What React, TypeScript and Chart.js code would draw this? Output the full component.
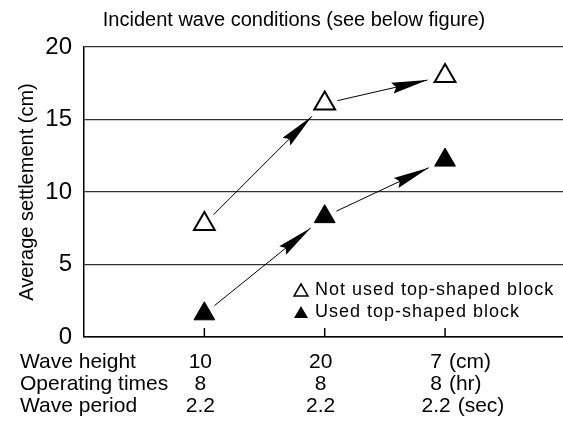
import React, { useEffect, useRef } from 'react';
import { Chart, registerables } from 'chart.js';

Chart.register(...registerables);

const chartTitle = 'Incident wave conditions (see below figure)';
const yAxisTitle = 'Average settlement (cm)';
const conditionIndex = [1, 2, 3];
const notUsedLabel = 'Not used top-shaped block';
const usedLabel = 'Used top-shaped block';
const notUsedValues = [7.8, 16.1, 18.0];
const usedValues = [1.6, 8.3, 12.2];
const yTickValues = [0, 5, 10, 15, 20];
const rowLabels = ['Wave height', 'Operating times', 'Wave period'];
const waveHeights = ['10', '20', '7'];
const operatingTimes = ['8', '8', '8'];
const wavePeriods = ['2.2', '2.2', '2.2'];
const units = ['(cm)', '(hr)', '(sec)'];

const FONT = '"Liberation Sans", Arial, sans-serif';
const W = 563;
const H = 439;
const TOP = 47;
const Y_AXIS_W = 84;
const X_AXIS_H = 102;
const ROW_FIRST = 25;
const ROW_STEP = 22;

function drawArrow(ctx: CanvasRenderingContext2D, ax: number, ay: number, bx: number, by: number) {
  const dx = bx - ax;
  const dy = by - ay;
  const len = Math.hypot(dx, dy);
  const ux = dx / len;
  const uy = dy / len;
  const sx = ax + ux * 13;
  const sy = ay + uy * 13;
  const ex = bx - ux * 18;
  const ey = by - uy * 18;
  ctx.strokeStyle = '#000';
  ctx.lineWidth = 1;
  ctx.beginPath();
  ctx.moveTo(sx, sy);
  ctx.lineTo(ex, ey);
  ctx.stroke();
  const hl = 36;
  const hw = 5.5;
  const bxp = ex - ux * hl;
  const byp = ey - uy * hl;
  const nx = -uy;
  const ny = ux;
  ctx.fillStyle = '#000';
  ctx.beginPath();
  ctx.moveTo(ex, ey);
  ctx.lineTo(bxp + nx * hw, byp + ny * hw);
  ctx.lineTo(bxp + ux * 4, byp + uy * 4);
  ctx.lineTo(bxp - nx * hw, byp - ny * hw);
  ctx.closePath();
  ctx.fill();
}

function legendTriangle(ctx: CanvasRenderingContext2D, cx: number, cy: number, filled: boolean) {
  const w = 14;
  const h = 12;
  ctx.beginPath();
  ctx.moveTo(cx, cy - h / 2);
  ctx.lineTo(cx + w / 2, cy + h / 2);
  ctx.lineTo(cx - w / 2, cy + h / 2);
  ctx.closePath();
  if (filled) {
    ctx.fillStyle = '#000';
    ctx.fill();
  } else {
    ctx.fillStyle = '#fff';
    ctx.fill();
    ctx.strokeStyle = '#000';
    ctx.lineWidth = 1.5;
    ctx.stroke();
  }
}

const annotations = {
  id: 'annotations',
  afterDraw(chart: any) {
    const ctx: CanvasRenderingContext2D = chart.ctx;
    const { bottom } = chart.chartArea;
    const xs = chart.scales.x;
    ctx.save();
    // inward tick marks
    ctx.strokeStyle = '#000';
    ctx.lineWidth = 1.5;
    conditionIndex.forEach((v) => {
      const px = xs.getPixelForValue(v);
      ctx.beginPath();
      ctx.moveTo(px, bottom);
      ctx.lineTo(px, bottom - 9);
      ctx.stroke();
    });
    // arrows between successive conditions
    [0, 1].forEach((di) => {
      const meta = chart.getDatasetMeta(di);
      for (let i = 0; i < meta.data.length - 1; i++) {
        const a = meta.data[i];
        const b = meta.data[i + 1];
        drawArrow(ctx, a.x, a.y, b.x, b.y);
      }
    });
    // title
    ctx.fillStyle = '#000';
    ctx.font = `20px ${FONT}`;
    ctx.textAlign = 'center';
    ctx.textBaseline = 'middle';
    ctx.fillText(chartTitle, 294, 20);
    // condition table under the x axis
    const rows = [waveHeights, operatingTimes, wavePeriods];
    ctx.font = `21px ${FONT}`;
    rows.forEach((vals, r) => {
      const y = bottom + ROW_FIRST + ROW_STEP * r;
      ctx.textAlign = 'left';
      ctx.fillText(rowLabels[r], 20, y);
      vals.forEach((v, i) => {
        const last = i === conditionIndex.length - 1;
        const cx = xs.getPixelForValue(conditionIndex[i]) + (last ? -9 : -4);
        ctx.textAlign = 'center';
        ctx.fillText(v, cx, y);
        if (last) {
          const wv = ctx.measureText(v).width;
          ctx.textAlign = 'left';
          ctx.fillText(units[r], cx + wv / 2 + 7, y);
        }
      });
    });
    // legend
    const ds = chart.data.datasets;
    ctx.font = `18px ${FONT}`;
    (ctx as any).letterSpacing = '1px';
    const lx = 301;
    const ly = [290, 312];
    [0, 1].forEach((i) => {
      legendTriangle(ctx, lx, ly[i], i === 1);
      ctx.fillStyle = '#000';
      ctx.textAlign = 'left';
      ctx.fillText(ds[i].label, 315, ly[i]);
    });
    ctx.restore();
  },
};

export default function App() {
  const ref = useRef<HTMLCanvasElement | null>(null);
  useEffect(() => {
    if (!ref.current) return;
    const chart = new Chart(ref.current, {
      type: 'scatter',
      data: {
        datasets: [
          {
            label: notUsedLabel,
            data: conditionIndex.map((x, i) => ({ x, y: notUsedValues[i] })),
            pointStyle: 'triangle',
            pointRadius: 12,
            pointHoverRadius: 12,
            backgroundColor: '#fff',
            borderColor: '#000',
            borderWidth: 2,
            showLine: false,
          },
          {
            label: usedLabel,
            data: conditionIndex.map((x, i) => ({ x, y: usedValues[i] })),
            pointStyle: 'triangle',
            pointRadius: 12,
            pointHoverRadius: 12,
            backgroundColor: '#000',
            borderColor: '#000',
            borderWidth: 1,
            showLine: false,
          },
        ],
      },
      options: {
        responsive: false,
        animation: false,
        events: [],
        layout: { autoPadding: false, padding: { top: TOP, right: 0, bottom: 0, left: 0 } },
        plugins: {
          legend: { display: false },
          tooltip: { enabled: false },
          title: { display: false },
        },
        scales: {
          x: {
            type: 'linear',
            min: 0,
            max: 3.98,
            afterBuildTicks: (scale: any) => {
              scale.ticks = conditionIndex.map((v) => ({ value: v }));
            },
            afterFit: (scale: any) => {
              scale.height = X_AXIS_H;
            },
            grid: { display: false, drawTicks: false },
            border: { display: true, color: '#000', width: 1.5 },
            ticks: { display: false },
          },
          y: {
            type: 'linear',
            min: 0,
            max: 20,
            afterBuildTicks: (scale: any) => {
              scale.ticks = yTickValues.map((v) => ({ value: v }));
            },
            afterFit: (scale: any) => {
              scale.width = Y_AXIS_W;
            },
            grid: { color: '#333', lineWidth: 1.2, drawTicks: false },
            border: { display: true, color: '#000', width: 1.5 },
            ticks: {
              padding: 12,
              color: '#000',
              font: { family: FONT, size: 24 },
            },
            title: {
              display: true,
              text: yAxisTitle,
              color: '#000',
              font: { family: FONT, size: 20 },
              padding: { top: 15, bottom: 0 },
            },
          },
        },
      },
      plugins: [annotations],
    });
    return () => chart.destroy();
  }, []);
  return (
    <div style={{ position: 'absolute', left: 0, top: 0, width: W, height: H, background: '#fff' }}>
      <canvas ref={ref} width={W} height={H} style={{ display: 'block' }} />
    </div>
  );
}
